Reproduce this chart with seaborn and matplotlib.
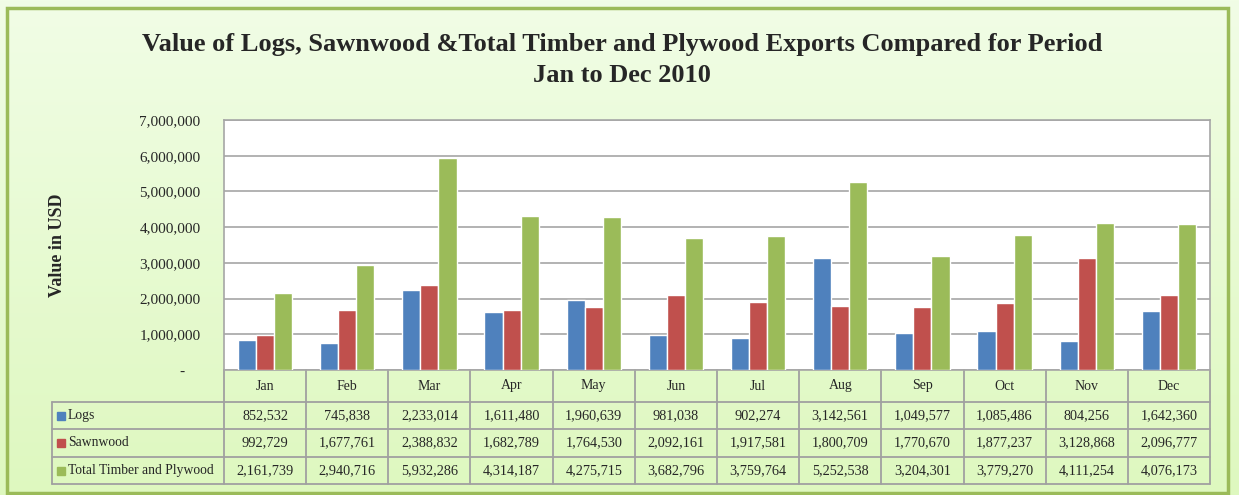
import numpy as np
import pandas as pd
import seaborn as sns
import matplotlib.pyplot as plt
from matplotlib.ticker import FuncFormatter, MultipleLocator
from matplotlib.transforms import blended_transform_factory
from matplotlib.patches import Rectangle
from matplotlib.colors import LinearSegmentedColormap

months = ['Jan', 'Feb', 'Mar', 'Apr', 'May', 'Jun', 'Jul', 'Aug', 'Sep', 'Oct', 'Nov', 'Dec']
logs = [852532, 745838, 2233014, 1611480, 1960639, 981038, 902274, 3142561, 1049577, 1085486, 804256, 1642360]
sawnwood = [992729, 1677761, 2388832, 1682789, 1764530, 2092161, 1917581, 1800709, 1770670, 1877237, 3128868, 2096777]
total = [2161739, 2940716, 5932286, 4314187, 4275715, 3682796, 3759764, 5252538, 3204301, 3779270, 4111254, 4076173]
series = ['Logs', 'Sawnwood', 'Total Timber and Plywood']
colors = ['#4f81bd', '#c0504d', '#9bbb59']

df = pd.DataFrame({'month': months * 3,
                   'value': logs + sawnwood + total,
                   'series': [s for s in series for _ in months]})

sns.set_style('white')
plt.rcParams['font.family'] = ['Liberation Serif', 'DejaVu Serif']

fig = plt.figure(figsize=(12.39, 4.95), dpi=100)

# light green gradient background + border
bg = fig.add_axes([0, 0, 1, 1], zorder=-10)
grad = np.linspace(0, 1, 256).reshape(-1, 1)
cmap = LinearSegmentedColormap.from_list('bg', ['#f1fde6', '#def8bf'])
bg.imshow(grad, aspect='auto', cmap=cmap, extent=[0, 1, 0, 1])
bg.set_axis_off()
fig.patches.append(Rectangle((7 / 1239, 2 / 495), 1221 / 1239, 485 / 495, transform=fig.transFigure,
                             fill=False, edgecolor='#9bbb59', lw=2.5, zorder=5))

ax = fig.add_axes([224 / 1239, 1 - 370 / 495, 986 / 1239, 250 / 495])
ax.set_facecolor('white')
sns.barplot(data=df, x='month', y='value', hue='series', palette=colors, width=0.66,
            saturation=1, legend=False, ax=ax, zorder=3)

ax.yaxis.set_major_locator(MultipleLocator(1000000))
ax.yaxis.set_major_formatter(FuncFormatter(lambda v, p: '-    ' if v == 0 else f'{int(v):,}'))
ax.grid(axis='y', color='#a6a6a6', lw=1.2, zorder=0)
ax.tick_params(axis='y', length=0, pad=17, labelsize=11)
ax.tick_params(axis='x', length=0, labelbottom=False)
ax.set_xlabel('')
ax.set_ylabel('')
for s in ax.spines.values():
    s.set_color('#a6a6a6')
    s.set_linewidth(1.2)

# data table below the plot
trans = blended_transform_factory(ax.transData, ax.transAxes)
px = 12 / 986
x0 = -0.5 - 172 * px
xr = len(months) - 0.5
rows = [-0.128, -0.236, -0.348, -0.456]
lc = '#a0a0a0'
for y in rows:
    ax.plot([x0, xr], [y, y], color=lc, lw=1.3, transform=trans, clip_on=False)
for i in range(len(months) + 1):
    ax.plot([i - 0.5, i - 0.5], [0, rows[-1]], color=lc, lw=1.3, transform=trans, clip_on=False)
ax.plot([x0, x0], [rows[0], rows[-1]], color=lc, lw=1.3, transform=trans, clip_on=False)

for i, m in enumerate(months):
    ax.text(i, rows[0] / 2, m, ha='center', va='center', fontsize=10, transform=trans)

for r, (name, vals, c) in enumerate(zip(series, [logs, sawnwood, total], colors)):
    yc = (rows[r] + rows[r + 1]) / 2
    ax.plot([x0 + 9 * px], [yc], marker='s', ms=6, color=c, transform=trans, clip_on=False)
    ax.text(x0 + 16 * px, yc, name, ha='left', va='center', fontsize=9.8, transform=trans)
    for i, v in enumerate(vals):
        ax.text(i, yc, f'{v:,}', ha='center', va='center', fontsize=10.3, transform=trans)

ax.set_xlim(-0.5, len(months) - 0.5)
ax.set_ylim(0, 7000000)

fig.text(57 / 1239, 1 - 245 / 495, 'Value in USD', rotation=90, ha='center', va='center',
         fontsize=13, fontweight='bold')
fig.text(622 / 1239, 1 - 60 / 495,
         'Value of Logs, Sawnwood &Total Timber and Plywood Exports Compared for Period\nJan to Dec 2010',
         ha='center', va='center', fontsize=19, fontweight='bold', linespacing=1.4)

fig.savefig('out.png', dpi=100)
